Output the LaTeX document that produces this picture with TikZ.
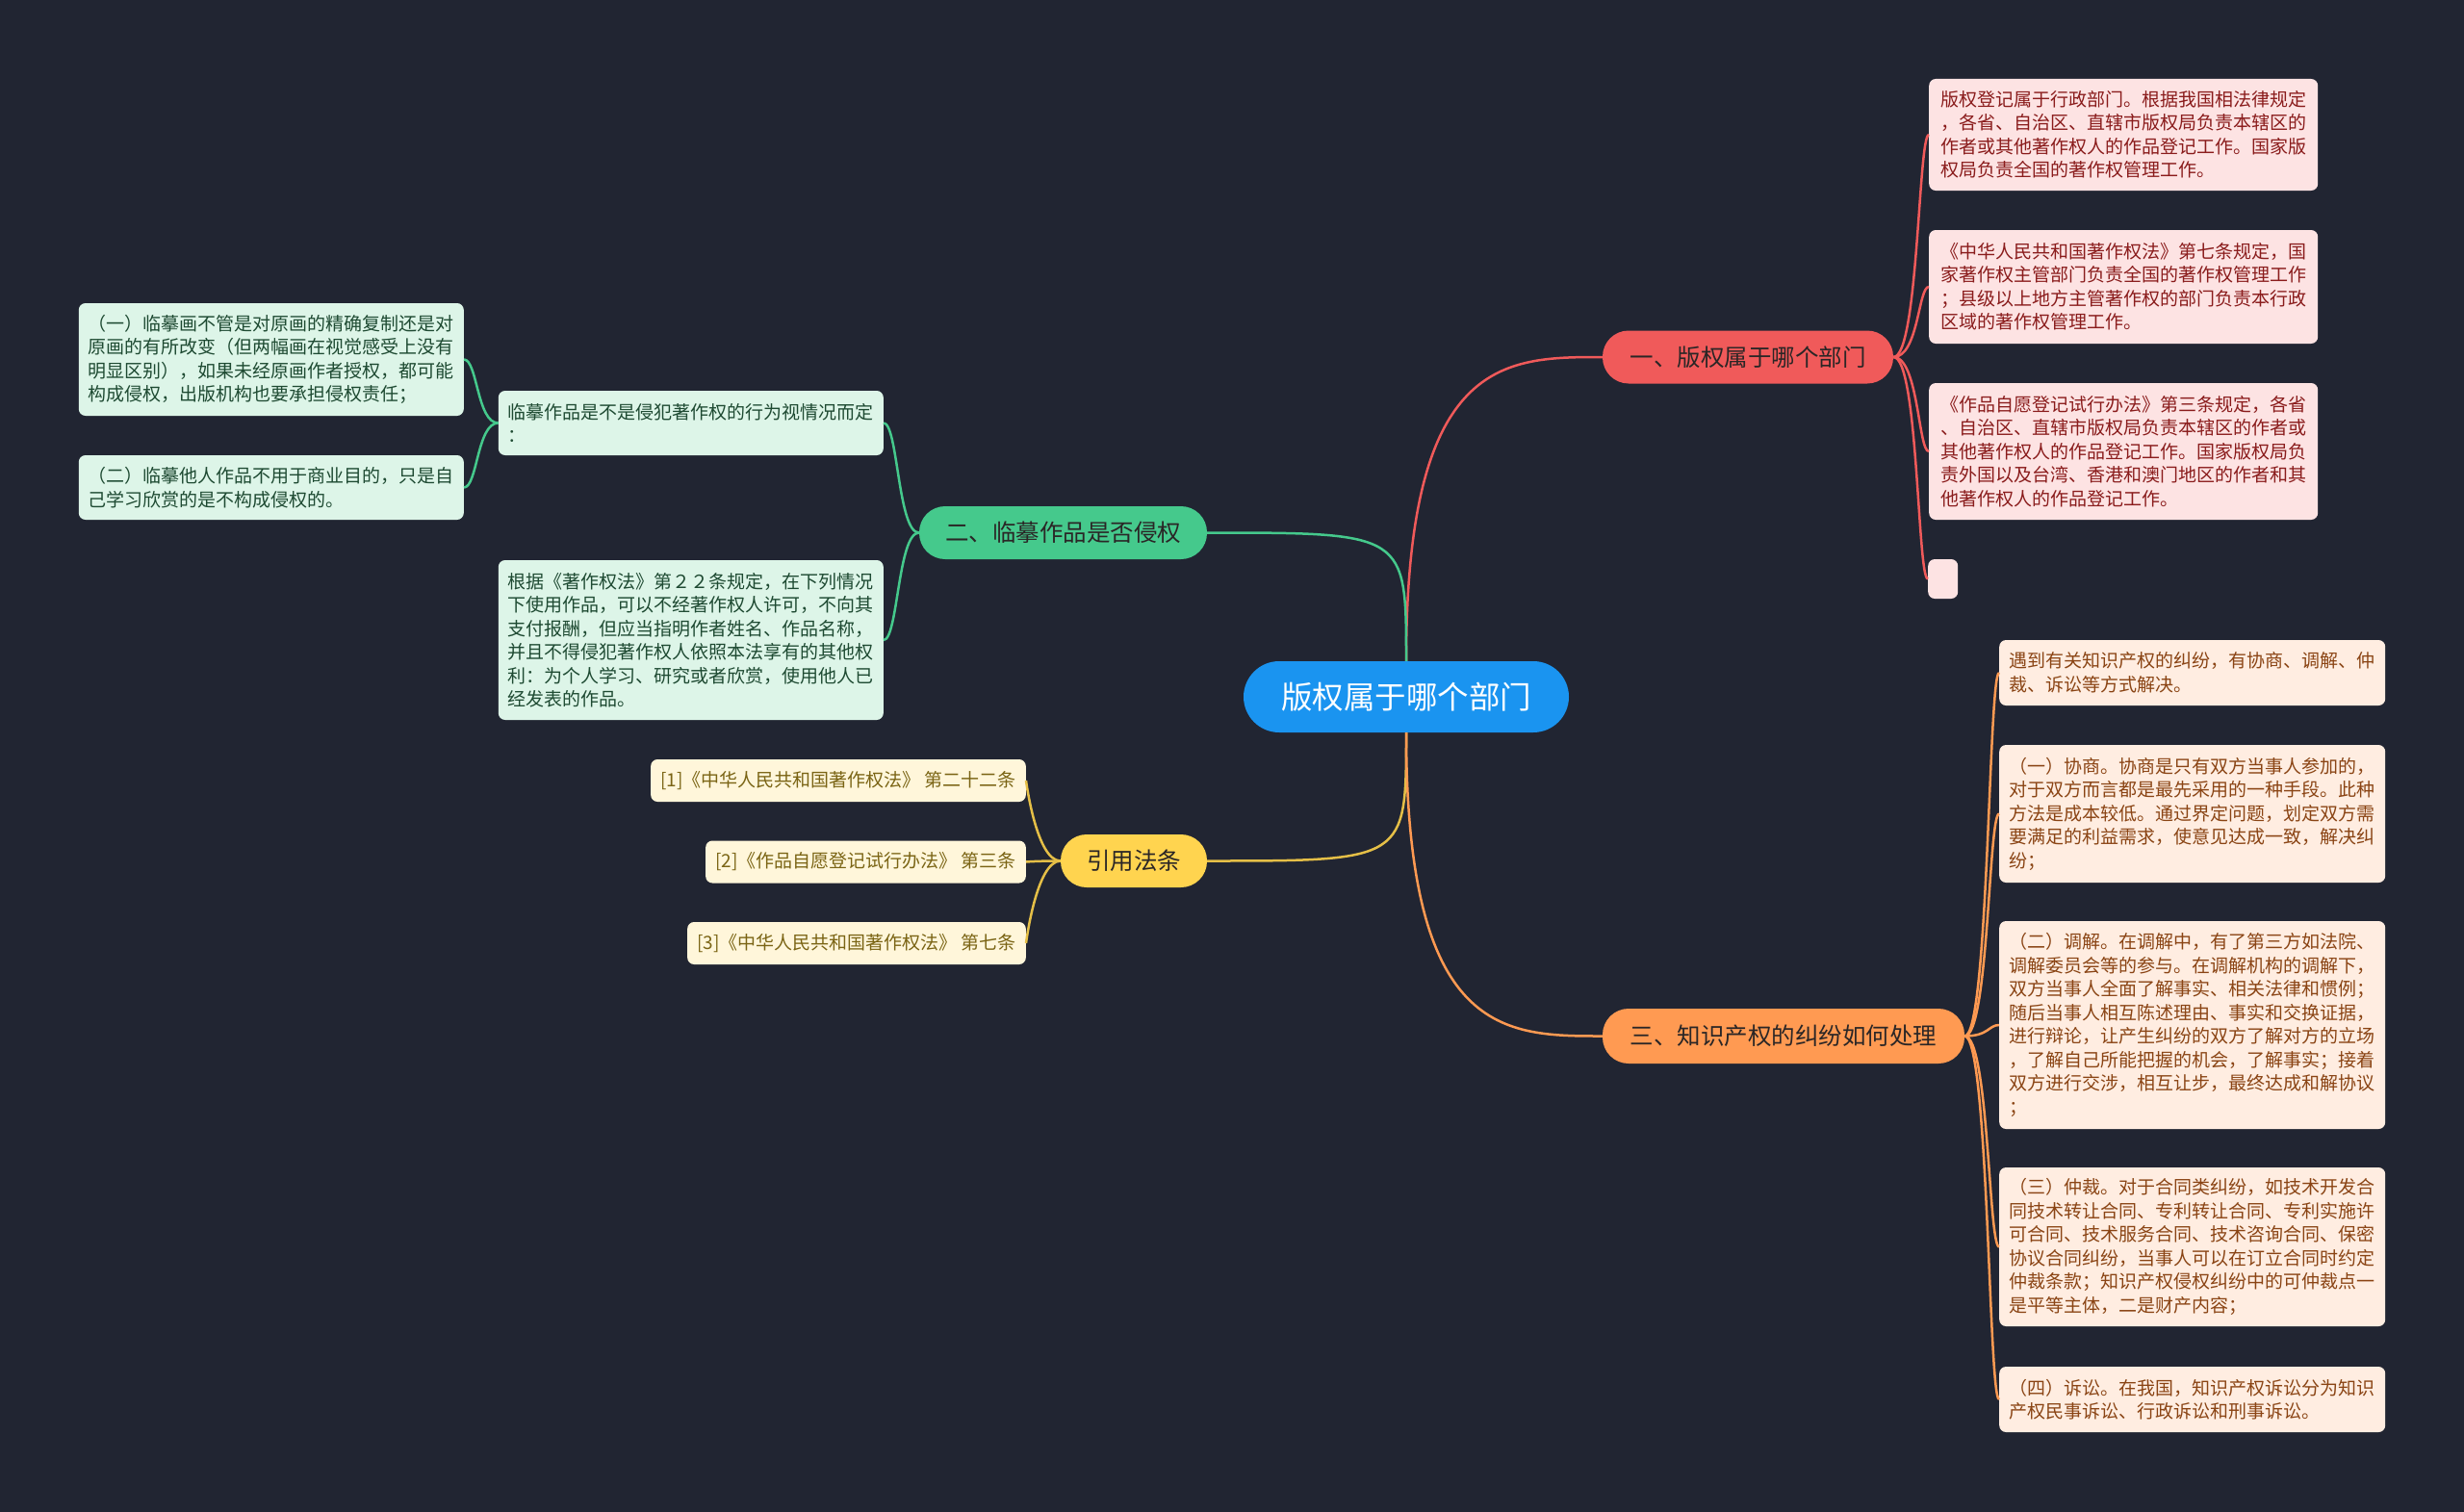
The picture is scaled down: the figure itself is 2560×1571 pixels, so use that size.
\documentclass[tikz,border=0pt]{standalone}
\usepackage{fontspec}
\setmainfont{Noto Sans CJK SC}

\definecolor{bgcol}{HTML}{212532}
\definecolor{rootfill}{HTML}{1A94F0}
\definecolor{redfill}{HTML}{F05A5A}
\definecolor{greenfill}{HTML}{45C98C}
\definecolor{yellowfill}{HTML}{FFD44F}
\definecolor{orangefill}{HTML}{FF9A52}
\definecolor{pinkleaf}{HTML}{FDE3E3}
\definecolor{pinktext}{HTML}{8A1C1C}
\definecolor{mintleaf}{HTML}{DDF5E8}
\definecolor{minttext}{HTML}{1E4A32}
\definecolor{creamleaf}{HTML}{FFF6DA}
\definecolor{creamtext}{HTML}{7A6414}
\definecolor{peachleaf}{HTML}{FFEDE1}
\definecolor{peachtext}{HTML}{8A4414}
\definecolor{brtext}{HTML}{2A2626}

\begin{document}
\begin{tikzpicture}[x=1pt,y=-1pt,
    leaf/.style={rectangle, rounded corners=7pt, inner xsep=9pt, inner ysep=5pt, align=left, font=\fontsize{19}{24.5}\selectfont},
    redleaf/.style={leaf, fill=pinkleaf, text=pinktext, minimum width=404pt, anchor=west},
    orangeleaf/.style={leaf, fill=peachleaf, text=peachtext, minimum width=401pt, anchor=west},
    greenleaf/.style={leaf, fill=mintleaf, text=minttext, minimum width=400pt, anchor=east},
    yellowleaf/.style={leaf, fill=creamleaf, text=creamtext, inner xsep=10pt, minimum height=44pt, anchor=east},
    branch/.style={rectangle, rounded corners=27pt, text=brtext, font=\fontsize{24.5}{28}\selectfont, minimum height=55pt},
    link/.style={line width=2.5pt}
]
    \fill[bgcol] (0,0) rectangle (2560,1571);

    % root
    \node[rectangle, rounded corners=37pt, fill=rootfill, text=white, font=\fontsize{32.5}{36}\selectfont,
          minimum width=338pt, minimum height=74pt] (root) at (1461,724) {版权属于哪个部门};

    % branches
    \node[branch, fill=redfill, minimum width=302pt] (br1) at (1816,371) {一、版权属于哪个部门};
    \node[branch, fill=greenfill, minimum width=299pt] (br2) at (1104.5,553.5) {二、临摹作品是否侵权};
    \node[branch, fill=yellowfill, minimum width=152pt] (ref) at (1178,894.5) {引用法条};
    \node[branch, fill=orangefill, minimum width=376pt, minimum height=57pt] (br3) at (1853,1076.5) {三、知识产权的纠纷如何处理};

    % branch 1 leaves
    \node[redleaf, minimum height=116pt] (p1) at (2004,140) {版权登记属于行政部门。根据我国相法律规定\\，各省、自治区、直辖市版权局负责本辖区的\\作者或其他著作权人的作品登记工作。国家版\\权局负责全国的著作权管理工作。};
    \node[redleaf, minimum height=118pt] (p2) at (2004,298) {《中华人民共和国著作权法》第七条规定，国\\家著作权主管部门负责全国的著作权管理工作\\；县级以上地方主管著作权的部门负责本行政\\区域的著作权管理工作。};
    \node[redleaf, minimum height=142pt] (p3) at (2004,469) {《作品自愿登记试行办法》第三条规定，各省\\、自治区、直辖市版权局负责本辖区的作者或\\其他著作权人的作品登记工作。国家版权局负\\责外国以及台湾、香港和澳门地区的作者和其\\他著作权人的作品登记工作。};
    \node[leaf, fill=pinkleaf, anchor=west, minimum width=31pt, minimum height=41pt, inner sep=0pt] (p4) at (2003,601.5) {};

    % branch 2 leaves
    \node[greenleaf, minimum height=67pt] (g1) at (918,439.5) {临摹作品是不是侵犯著作权的行为视情况而定\\：};
    \node[greenleaf, minimum height=166pt] (g2) at (918,665) {根据《著作权法》第２２条规定，在下列情况\\下使用作品，可以不经著作权人许可，不向其\\支付报酬，但应当指明作者姓名、作品名称，\\并且不得侵犯著作权人依照本法享有的其他权\\利：为个人学习、研究或者欣赏，使用他人已\\经发表的作品。};
    \node[greenleaf, minimum height=117pt] (g11) at (482,373.5) {（一）临摹画不管是对原画的精确复制还是对\\原画的有所改变（但两幅画在视觉感受上没有\\明显区别），如果未经原画作者授权，都可能\\构成侵权，出版机构也要承担侵权责任；};
    \node[greenleaf, minimum height=67pt] (g12) at (482,506.5) {（二）临摹他人作品不用于商业目的，只是自\\己学习欣赏的是不构成侵权的。};

    % references
    \node[yellowleaf] (y1) at (1066,811) {[1]《中华人民共和国著作权法》 第二十二条};
    \node[yellowleaf] (y2) at (1066,895.5) {[2]《作品自愿登记试行办法》 第三条};
    \node[yellowleaf] (y3) at (1066,980) {[3]《中华人民共和国著作权法》 第七条};

    % branch 3 leaves
    \node[orangeleaf, minimum height=68pt] (o0) at (2077,699) {遇到有关知识产权的纠纷，有协商、调解、仲\\裁、诉讼等方式解决。};
    \node[orangeleaf, minimum height=143pt] (o1) at (2077,845.5) {（一）协商。协商是只有双方当事人参加的，\\对于双方而言都是最先采用的一种手段。此种\\方法是成本较低。通过界定问题，划定双方需\\要满足的利益需求，使意见达成一致，解决纠\\纷；};
    \node[orangeleaf, minimum height=216pt] (o2) at (2077,1065) {（二）调解。在调解中，有了第三方如法院、\\调解委员会等的参与。在调解机构的调解下，\\双方当事人全面了解事实、相关法律和惯例；\\随后当事人相互陈述理由、事实和交换证据，\\进行辩论，让产生纠纷的双方了解对方的立场\\，了解自己所能把握的机会，了解事实；接着\\双方进行交涉，相互让步，最终达成和解协议\\；};
    \node[orangeleaf, minimum height=165pt] (o3) at (2077,1295.5) {（三）仲裁。对于合同类纠纷，如技术开发合\\同技术转让合同、专利转让合同、专利实施许\\可合同、技术服务合同、技术咨询合同、保密\\协议合同纠纷，当事人可以在订立合同时约定\\仲裁条款；知识产权侵权纠纷中的可仲裁点一\\是平等主体，二是财产内容；};
    \node[orangeleaf, minimum height=68pt] (o4) at (2077,1454) {（四）诉讼。在我国，知识产权诉讼分为知识\\产权民事诉讼、行政诉讼和刑事诉讼。};

    % root links
    \draw[link, redfill] (root.north) .. controls (root.north |- br1.west) and +(-102,0) .. (br1.west);
    \draw[link, greenfill] (root.north) .. controls (root.north |- br2.east) .. (br2.east);
    \draw[link, yellowfill!90!black] (root.south) .. controls (root.south |- ref.east) .. (ref.east);
    \draw[link, orangefill] (root.south) .. controls (root.south |- br3.west) and +(-102,0) .. (br3.west);

    % leaf links
    \foreach \n in {p1,p2,p3,p4}
        \draw[link, redfill] (br1.east) .. controls +(26,0) and +(-11,0) .. (\n.west);
    \foreach \n in {o0,o1,o2,o3,o4}
        \draw[link, orangefill] (br3.east) .. controls +(25,0) and +(-11,0) .. (\n.west);
    \foreach \n in {g1,g2}
        \draw[link, greenfill] (br2.west) .. controls +(-22,0) and +(15,0) .. (\n.east);
    \foreach \n in {g11,g12}
        \draw[link, greenfill] (g1.west) .. controls +(-22,0) and +(14,0) .. (\n.east);
    \foreach \n in {y1,y2,y3}
        \draw[link, yellowfill!90!black] (ref.west) .. controls +(-25,0) and +(0,0) .. (\n.east);
\end{tikzpicture}
\end{document}
